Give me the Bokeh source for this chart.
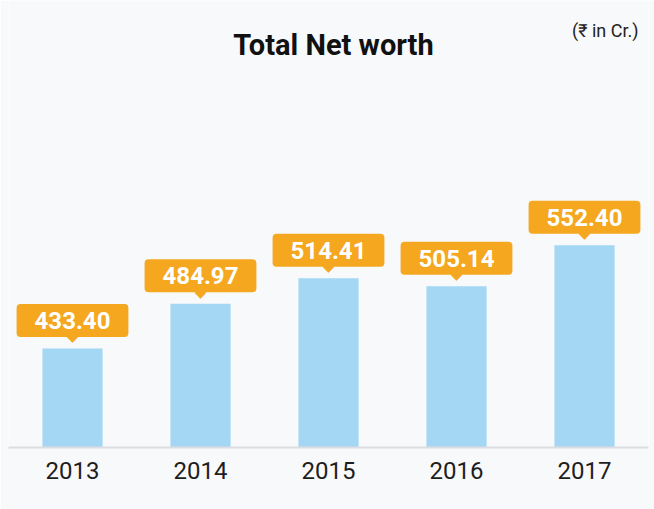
from bokeh.plotting import figure
from bokeh.models import Range1d, Label, FactorRange, ColumnDataSource
from bokeh.core.properties import value
from bokeh.embed import file_html
from bokeh.resources import INLINE

years = ["2013", "2014", "2015", "2016", "2017"]
net_worth = [433.40, 484.97, 514.41, 505.14, 552.40]
labels = [f"{v:.2f}" for v in net_worth]

title_text = "Total Net worth"
unit_text = "(₹ in Cr.)"

BG = "#f8f9fb"
BAR = "#a3d7f4"
ORANGE = "#f4a71f"

src = ColumnDataSource(dict(year=years, value=net_worth, label=labels))

p = figure(
    x_range=FactorRange(*years, range_padding=0),
    y_range=Range1d(319, 835),
    width=654, height=509,
    output_backend="svg", toolbar_location=None,
    y_axis_location=None,
    min_border_left=8, min_border_right=6, min_border_top=0, min_border_bottom=62,
    background_fill_color=BG, border_fill_color=BG,
    outline_line_color=None,
)

p.vbar(x="year", top="value", bottom=0, width=0.47, source=src,
       fill_color=BAR, line_color=None)

# pointer (lower half of a diamond peeking out under the label box)
p.text(x="year", y="value", text=value("◆"), source=src,
       text_font=value("DejaVu Sans"), text_font_size="15px",
       text_color=ORANGE, text_align="center", text_baseline="middle",
       y_offset=-12)

# value labels
p.text(x="year", y="value", text="label", source=src,
       text_font=value("Roboto"), text_font_style="bold", text_font_size="24px",
       text_color="white", text_align="center", text_baseline="middle",
       y_offset=-28,
       background_fill_color=ORANGE, border_radius=4,
       padding=dict(left=18, right=18, top=8, bottom=8))

p.add_layout(Label(x=325, y=403, x_units="screen", y_units="screen",
                   text=title_text, text_align="center", text_baseline="alphabetic",
                   text_font="Roboto", text_font_style="bold", text_font_size="29px",
                   text_color="#111111"))
p.add_layout(Label(x=630, y=417, x_units="screen", y_units="screen",
                   text=unit_text, text_align="right", text_baseline="alphabetic",
                   text_font="Roboto", text_font_size="18px",
                   text_color="#222222"))

p.xgrid.visible = False
p.ygrid.visible = False
ax = p.xaxis[0]
ax.axis_line_color = "#dcdde0"
ax.axis_line_width = 2
ax.major_tick_line_color = None
ax.minor_tick_line_color = None
ax.major_label_text_font = "Roboto"
ax.major_label_text_font_size = "24px"
ax.major_label_text_color = "#1e1e1e"
ax.major_label_standoff = 8

open("out.html", "w").write(file_html(p, INLINE))
